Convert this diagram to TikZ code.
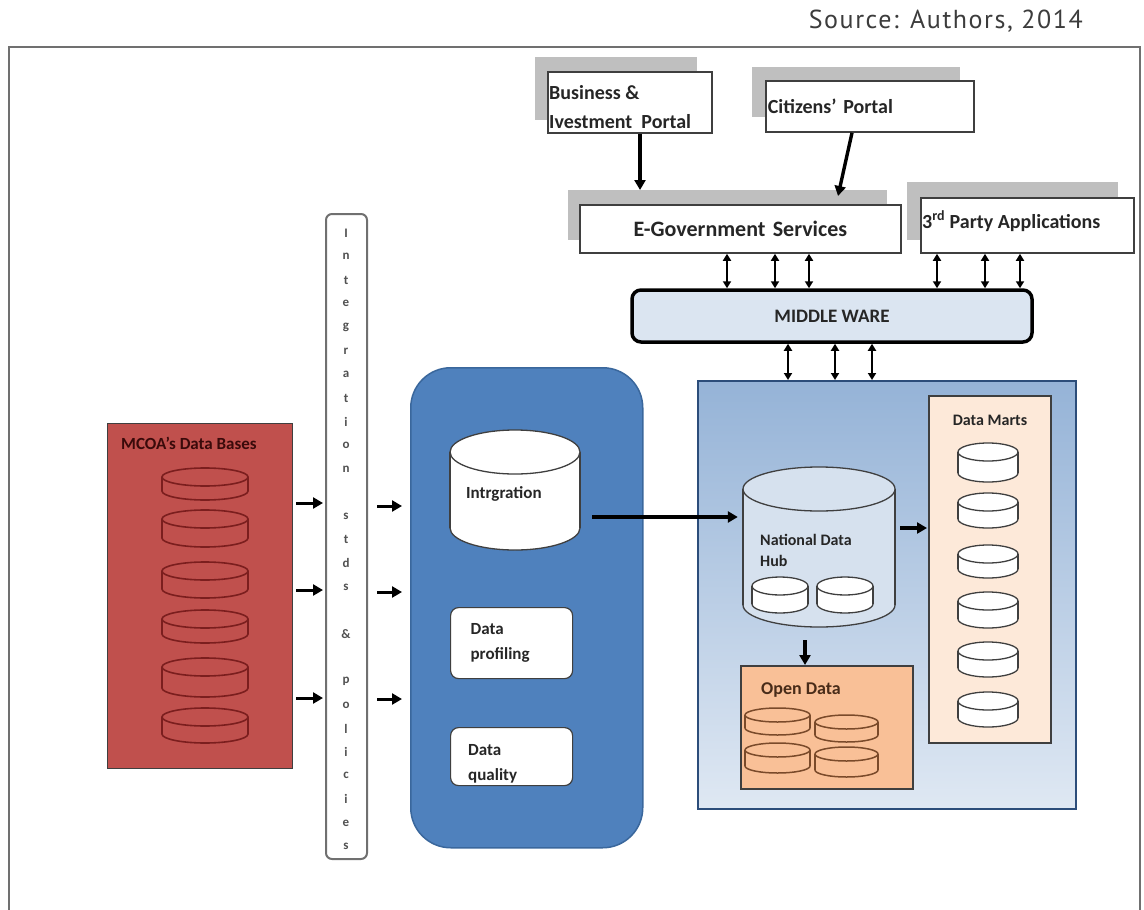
\documentclass[tikz,border=0pt]{standalone}
\usepackage{fontspec}
\setmainfont{Carlito}
\newfontfamily\srcfont[LetterSpace=6]{PT Sans}
\usetikzlibrary{arrows.meta,fit}
\definecolor{shadowgray}{HTML}{BFBFBF}
\definecolor{boxline}{HTML}{3F3F3F}
\definecolor{txt}{HTML}{262626}
\definecolor{mwfill}{HTML}{DBE5F1}
\definecolor{mcred}{HTML}{C0504D}
\definecolor{redline}{HTML}{7B1E1E}
\definecolor{redtxt}{HTML}{3A0A0A}
\definecolor{procblue}{HTML}{4F81BD}
\definecolor{procline}{HTML}{3A679C}
\definecolor{dwtop}{HTML}{95B3D7}
\definecolor{dwbot}{HTML}{DFE8F3}
\definecolor{dwline}{HTML}{2C4D7A}
\definecolor{hubfill}{HTML}{D6E1EE}
\definecolor{martfill}{HTML}{FDE9D9}
\definecolor{openfill}{HTML}{F9C097}
\definecolor{openline}{HTML}{7A4A2A}
\definecolor{frame}{HTML}{707070}

% cylinder: #1 name, #2 xl, #3 yt, #4 xr, #5 yb, #6 ry, #7 style
\newcommand\dbcyl[7]{%
  \path[#7] ({(#2+#4)/2},{#5-#6}) ellipse [x radius={(#4-#2)/2}, y radius=#6];
  \path[#7,draw=none] (#2,{#3+#6}) rectangle (#4,{#5-#6});
  \path[#7,fill=none] (#2,{#3+#6}) -- (#2,{#5-#6}) (#4,{#3+#6}) -- (#4,{#5-#6});
  \path[#7] ({(#2+#4)/2},{#3+#6}) ellipse [x radius={(#4-#2)/2}, y radius=#6];
  \node[fit={(#2,#3) (#4,#5)}, inner sep=0pt] (#1) {};
}

\begin{document}
\begin{tikzpicture}[x=1pt,y=-1pt,
  shadowbox/.style={fill=shadowgray, draw=none, inner sep=0pt, anchor=north west},
  portal/.style={draw=boxline, line width=1.8pt, fill=white, text=txt,
    font=\bfseries\fontsize{20}{24}\selectfont, inner xsep=2pt, inner ysep=0pt, anchor=north west},
  arr/.style={line width=3.4pt, -{Triangle[length=10pt,width=11pt]}},
  darr/.style={line width=2pt, {Triangle[length=7pt,width=8pt]}-{Triangle[length=7pt,width=8pt]}},
  vlet/.style={font=\bfseries\fontsize{13}{14}\selectfont, text=txt!80, inner sep=0pt},
  lbl/.style={inner sep=0pt, text=txt},
  whitecyl/.style={fill=white, draw=boxline, line width=1.3pt},
  redcyl/.style={fill=mcred, draw=redline, line width=1.6pt},
  opencyl/.style={fill=openfill, draw=openline, line width=1.5pt}
]
\useasboundingbox (0,0) rectangle (1144,910);

% source and frame
\node[font=\srcfont\fontsize{26}{30}\selectfont, text=txt!90, anchor=east, inner sep=0pt] (src) at (1083,21) {Source: Authors, 2014};
\draw[frame, line width=2pt] (9,910) -- (9,47) -- (1140,47) -- (1140,910);

% top portals
\node[shadowbox, minimum width=162pt, minimum height=63pt] (bizsh) at (535,57) {};
\node[portal, minimum width=164pt, minimum height=61pt] (biz) at (547,71) {};
\node[lbl, anchor=west, align=left, font=\bfseries\fontsize{20}{29}\selectfont] (bizlbl) at (549,107) {Business \&\\Ivestment\ \ Portal};
\node[shadowbox, minimum width=208pt, minimum height=50pt] (citsh) at (752,67) {};
\node[portal, minimum height=51pt, text width=204pt, align=left] (cit) at (765,80) {Citizens' Portal};
\node[shadowbox, minimum width=319pt, minimum height=50pt] (egovsh) at (568,190) {};
\node[portal, minimum height=48pt, text width=317pt, align=center, font=\bfseries\fontsize{22}{26}\selectfont] (egov) at (579,204) {E-Government Services};
\node[shadowbox, minimum width=211pt, minimum height=58pt] (tpsh) at (907,182) {};
\node[portal, minimum width=213pt, minimum height=55pt] (tp) at (920,197) {};
\node[lbl, anchor=west, font=\bfseries\fontsize{20}{24}\selectfont] (tplbl) at (922,221) {3\textsuperscript{rd} Party Applications};

\draw[arr] (biz.south -| 640,0) -- (egovsh.north -| 640,0);
\draw[arr] (cit.south -| 852,0) -- (838,196);

% middleware
\node[draw=black, line width=3.5pt, rounded corners=9pt, fill=mwfill, minimum width=400pt, minimum height=52pt,
  text=txt, font=\bfseries\fontsize{19}{22}\selectfont] (mw) at (832,316) {MIDDLE WARE};
\foreach \xx in {727,775,809} \draw[darr] (egov.south -| \xx,0) -- (mw.north -| \xx,0);
\foreach \xx in {937,985,1020} \draw[darr] (tp.south -| \xx,0) -- (mw.north -| \xx,0);

% MCOA data bases
\node[fill=mcred, draw=boxline, line width=1.2pt, minimum width=185pt, minimum height=345pt, anchor=north west, inner sep=0pt] (mcoa) at (107,423) {};
\node[lbl, anchor=west, text=redtxt, font=\bfseries\fontsize{17}{20}\selectfont] (mcoalbl) at (121,443) {MCOA's Data Bases};
\dbcyl{m1}{162}{468}{248}{500}{9}{redcyl}
\dbcyl{m2}{162}{510}{248}{547}{9}{redcyl}
\dbcyl{m3}{162}{562}{248}{598}{9}{redcyl}
\dbcyl{m4}{162}{610}{248}{643}{9}{redcyl}
\dbcyl{m5}{162}{658}{248}{697}{9}{redcyl}
\dbcyl{m6}{162}{708}{248}{743}{9}{redcyl}

% integration standards & policies
\node[draw=frame, line width=2pt, fill=white, rounded corners=6pt, minimum width=41pt, minimum height=645pt, anchor=north west, inner sep=0pt] (std) at (325,213) {};
\foreach \ch [count=\i from 0] in {I,n,t,e,g,r,a,t,i,o,n,{},s,t,d,s,{},\&,{},p,o,l,i,c,i,e,s}
  \node[vlet] (vl\i) at (346,{233+\i*23.6}) {\ch};

\foreach \yy in {503,590,698} \draw[arr, line width=3pt, shorten <=3pt, shorten >=2pt] (mcoa.east |- 0,\yy) -- (std.west |- 0,\yy);

% processing block
\node[fill=procblue, draw=procline, line width=1.5pt, rounded corners=40pt, minimum width=232pt, minimum height=480pt, anchor=north west, inner sep=0pt] (proc) at (410,367) {};
\foreach \yy in {506,592,699} \draw[arr, line width=3pt, shorten <=9pt, shorten >=8pt] (std.east |- 0,\yy) -- (proc.west |- 0,\yy);

\dbcyl{integ}{450}{430}{580}{550}{22}{whitecyl}
\node[lbl, anchor=west, font=\bfseries\fontsize{17}{20}\selectfont] (integlbl) at (466,494) {Intrgration};
\node[fill=white, draw=boxline, line width=1.2pt, rounded corners=8pt, anchor=north west, minimum height=71pt,
  text width=82pt, inner xsep=20pt, inner ysep=0pt, align=left, text=txt, font=\bfseries\fontsize{17}{25}\selectfont] (prof) at (450,607) {Data\\profiling};
\node[fill=white, draw=boxline, line width=1.2pt, rounded corners=8pt, anchor=north west, minimum width=122pt, minimum height=58pt, inner sep=0pt] (qual) at (450,727) {};
\node[lbl, anchor=west, align=left, font=\bfseries\fontsize{17}{25}\selectfont] (quallbl) at (468,764) {Data\\quality};

% data warehouse block
\node[draw=dwline, line width=2pt, top color=dwtop, bottom color=dwbot, minimum width=378pt, minimum height=428pt, anchor=north west, inner sep=0pt] (dw) at (697,380) {};
\foreach \xx in {788,835,872} \draw[darr] (mw.south -| \xx,0) -- (dw.north -| \xx,0);

\dbcyl{hub}{743}{467}{895}{627}{22}{fill=hubfill, draw=boxline, line width=1.3pt}
\node[lbl, anchor=west, align=left, font=\bfseries\fontsize{16}{21}\selectfont] (hublbl) at (760,550) {National Data\\Hub};
\dbcyl{h1}{752}{577}{808}{613}{9}{whitecyl}
\dbcyl{h2}{817}{577}{873}{613}{9}{whitecyl}

\draw[arr, shorten <=12pt, shorten >=5pt] (integ.east |- 0,517) -- (hub.west |- 0,517);

% data marts
\node[fill=martfill, draw=boxline, line width=1.5pt, minimum width=122pt, minimum height=347pt, anchor=north west, inner sep=0pt] (marts) at (928,395) {};
\node[lbl, font=\bfseries\fontsize{16}{19}\selectfont] (martslbl) at (990,420) {Data Marts};
\dbcyl{d1}{958}{443}{1018}{482}{9}{whitecyl}
\dbcyl{d2}{958}{493}{1018}{528}{9}{whitecyl}
\dbcyl{d3}{958}{545}{1018}{578}{9}{whitecyl}
\dbcyl{d4}{958}{592}{1018}{628}{9}{whitecyl}
\dbcyl{d5}{958}{642}{1018}{677}{9}{whitecyl}
\dbcyl{d6}{958}{692}{1018}{727}{9}{whitecyl}
\draw[arr, shorten <=5pt, shorten >=1pt] (hub.east |- 0,528) -- (marts.west |- 0,528);

% open data
\node[fill=openfill, draw=boxline, line width=1.5pt, minimum width=172pt, minimum height=123pt, anchor=north west, inner sep=0pt] (open) at (740,665) {};
\node[lbl, anchor=west, text=openline!60!black, font=\bfseries\fontsize{18}{21}\selectfont] (openlbl) at (761,690) {Open Data};
\dbcyl{o1}{745}{708}{810}{735}{7}{opencyl}
\dbcyl{o2}{815}{715}{878}{742}{7}{opencyl}
\dbcyl{o3}{745}{743}{810}{773}{7}{opencyl}
\dbcyl{o4}{815}{747}{878}{777}{7}{opencyl}
\draw[arr, shorten <=13pt] (hub.south -| 805,0) -- (open.north -| 805,0);
\end{tikzpicture}
\end{document}
